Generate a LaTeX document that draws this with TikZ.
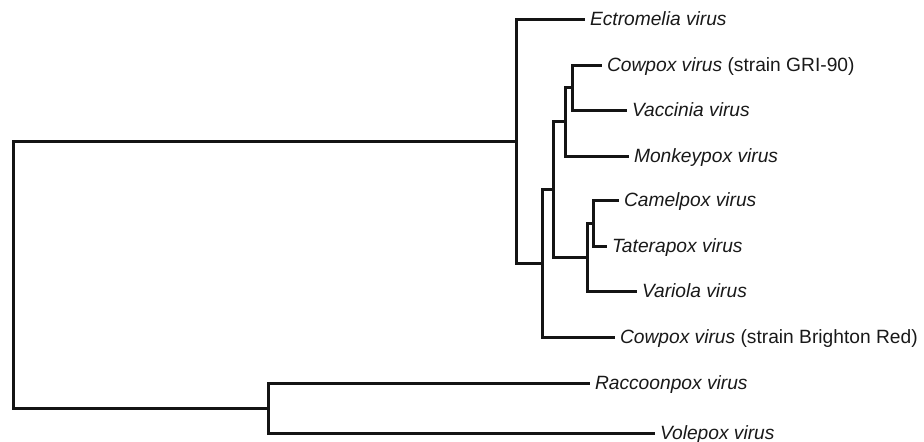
\documentclass[tikz,border=0pt]{standalone}
\usepackage{fontspec}
\setmainfont{Liberation Sans}
\begin{document}
\begin{tikzpicture}[x=0.5pt,y=-0.5pt,
  leaf/.style={anchor=west,inner xsep=3.5pt,inner ysep=0pt,outer sep=0pt,
    text height=6.8pt,text depth=0pt,font=\fontsize{9.6}{11}\selectfont,text=black!90},
  branch/.style={line width=1.5pt,draw=black!92,line cap=rect}]
\useasboundingbox (0,0) rectangle (924,441);
% leaves (west anchor = end of branch)
\node[leaf] (ect) at (583,19)  {\textit{Ectromelia virus}};
\node[leaf] (gri) at (600,65)  {\textit{Cowpox virus} (strain GRI-90)};
\node[leaf] (vac) at (625,110) {\textit{Vaccinia virus}};
\node[leaf] (mon) at (627,156) {\textit{Monkeypox virus}};
\node[leaf] (cam) at (617,200) {\textit{Camelpox virus}};
\node[leaf] (tat) at (605,246) {\textit{Taterapox virus}};
\node[leaf] (var) at (635,291) {\textit{Variola virus}};
\node[leaf] (cbr) at (613,337) {\textit{Cowpox virus} (strain Brighton Red)};
\node[leaf] (rac) at (588,383) {\textit{Raccoonpox virus}};
\node[leaf] (vol) at (653,433) {\textit{Volepox virus}};
% internal nodes
\coordinate (r) at (13,274.5);
\coordinate (A) at (516,141);
\coordinate (B) at (542,263);
\coordinate (C) at (553,189);
\coordinate (D) at (565,121);
\coordinate (F) at (572,87.5);
\coordinate (E) at (587,257.5);
\coordinate (G) at (593,223);
\coordinate (L) at (268,408);
% branches
\draw[branch] (r) |- (A);
\draw[branch] (r) |- (L);
\draw[branch] (A) |- (ect.west);
\draw[branch] (A) |- (B);
\draw[branch] (B) |- (C);
\draw[branch] (B) |- (cbr.west);
\draw[branch] (C) |- (D);
\draw[branch] (C) |- (E);
\draw[branch] (D) |- (F);
\draw[branch] (D) |- (mon.west);
\draw[branch] (F) |- (gri.west);
\draw[branch] (F) |- (vac.west);
\draw[branch] (E) |- (G);
\draw[branch] (E) |- (var.west);
\draw[branch] (G) |- (cam.west);
\draw[branch] (G) |- (tat.west);
\draw[branch] (L) |- (rac.west);
\draw[branch] (L) |- (vol.west);
\end{tikzpicture}
\end{document}
